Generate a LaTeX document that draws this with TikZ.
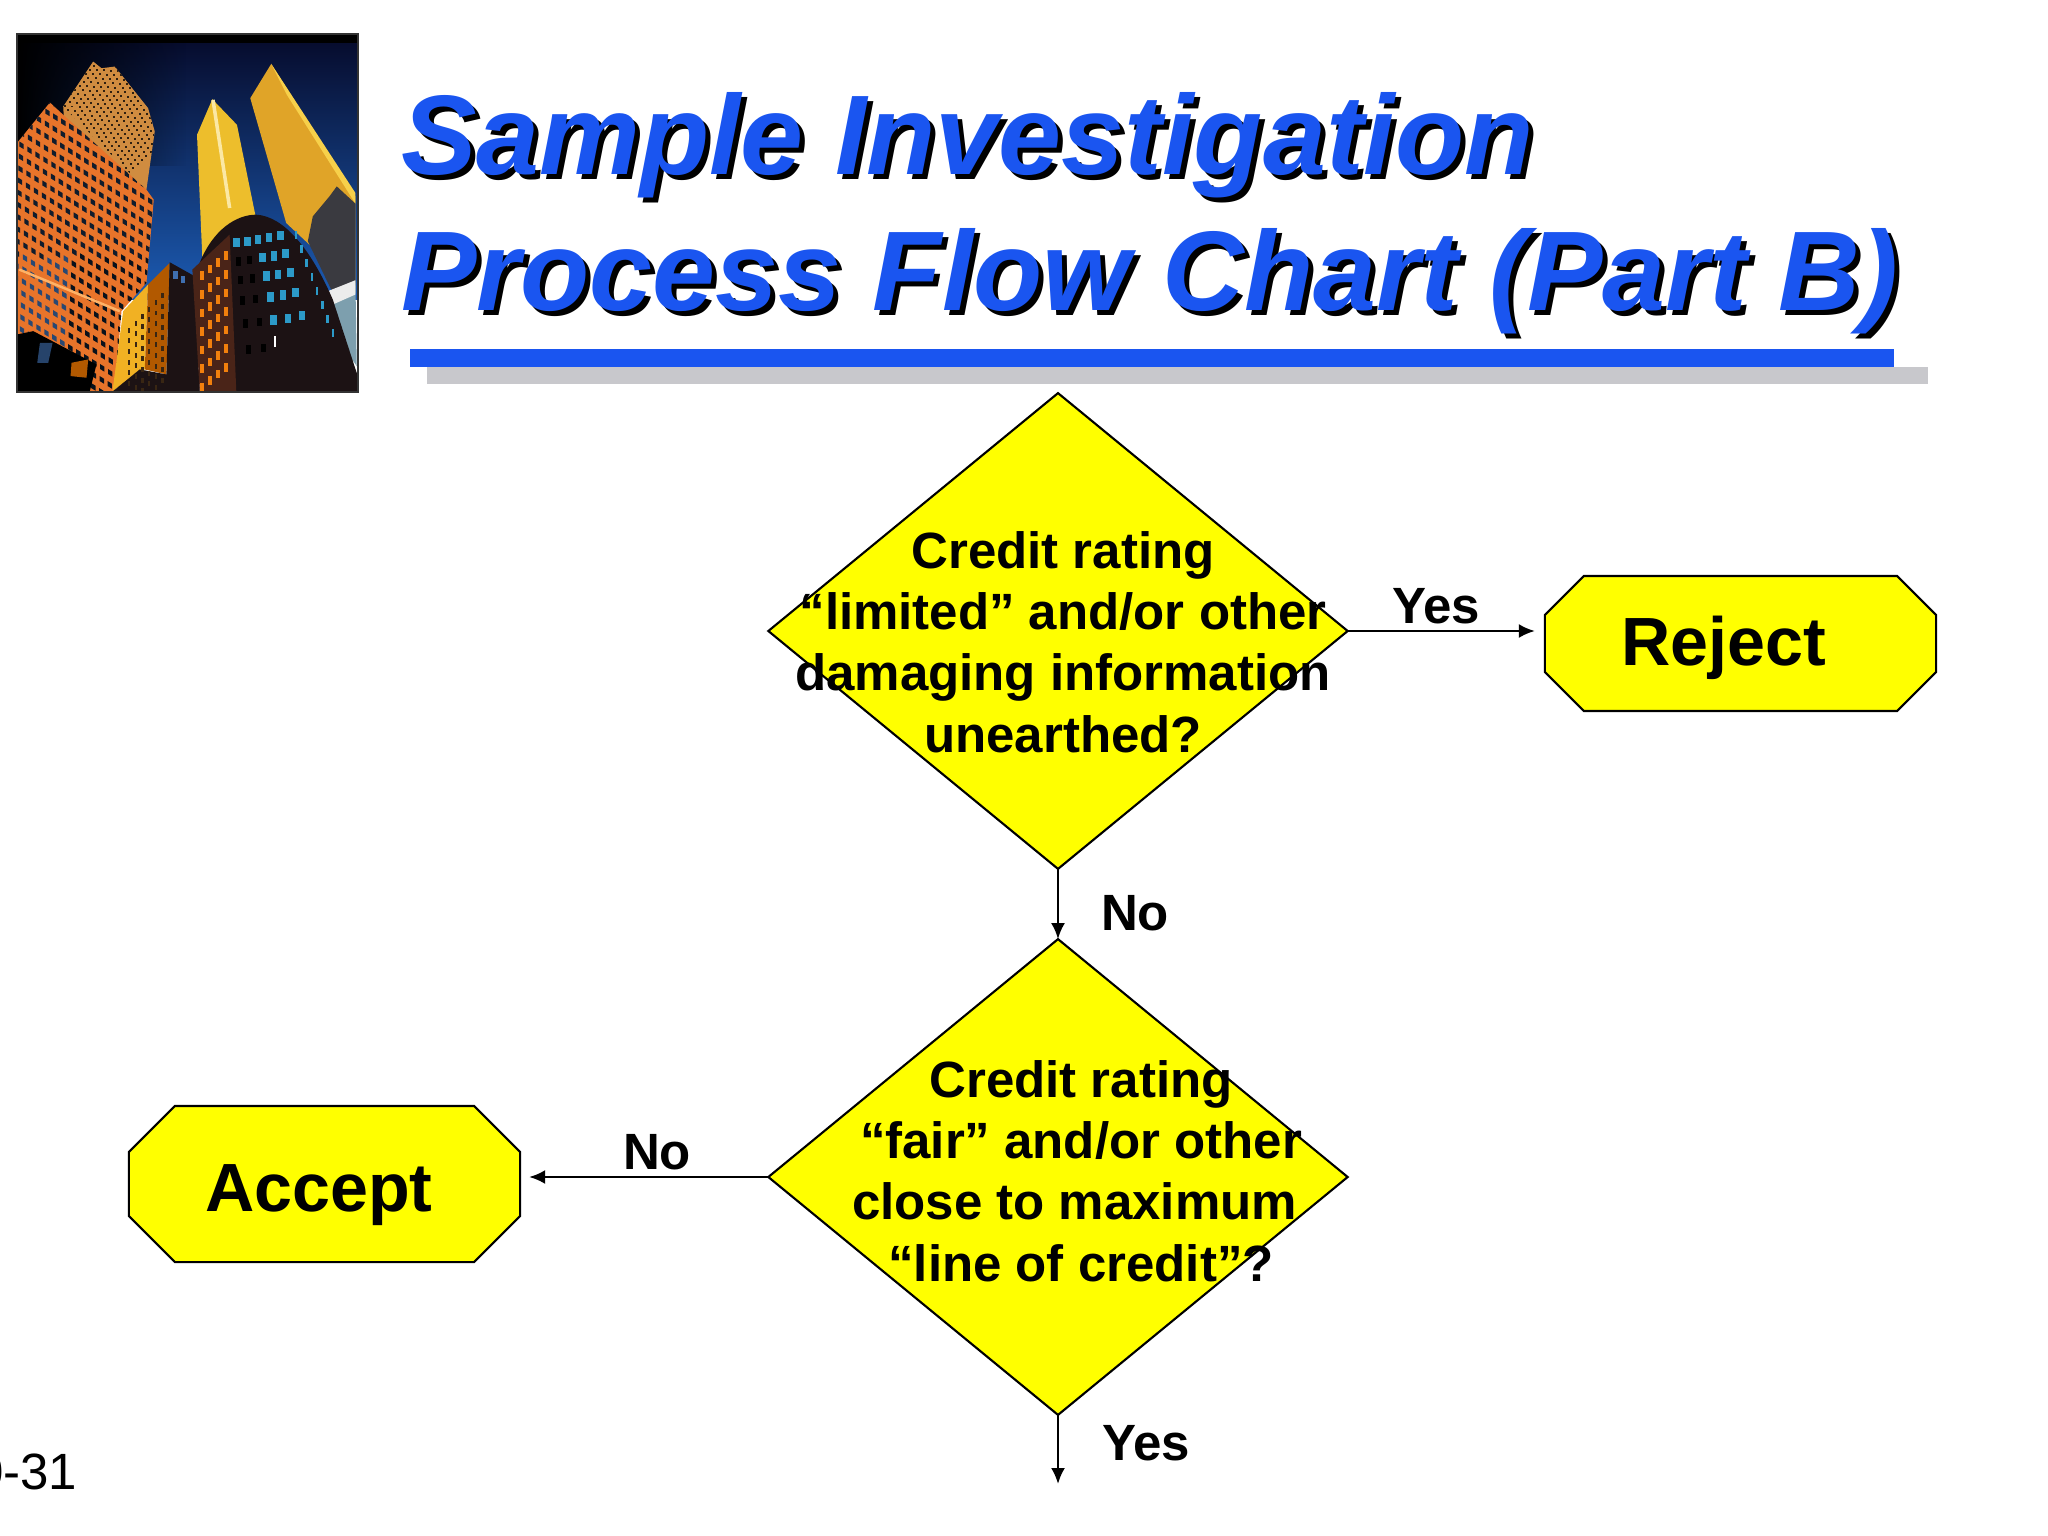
\documentclass[tikz,border=0pt]{standalone}
\usepackage{fontspec}
\setmainfont{Liberation Sans}
\usetikzlibrary{shapes.geometric,arrows.meta,calc,fadings}
\definecolor{titleblue}{HTML}{1A55F0}
\definecolor{barshadow}{HTML}{C8C8CC}
\definecolor{flowyellow}{HTML}{FFFF00}
\definecolor{bOrange}{HTML}{E8742A}
\definecolor{bBack}{HTML}{D08C40}
\definecolor{bYellow}{HTML}{EDBE2C}
\definecolor{bGold}{HTML}{E0A428}
\definecolor{bPale}{HTML}{F7D04A}
\definecolor{bDark}{HTML}{1C1214}
\definecolor{bBrown}{HTML}{4A2418}
\definecolor{bWin}{HTML}{3F6FB0}
\definecolor{skyTop}{HTML}{060A2A}
\definecolor{skyMid}{HTML}{0C2468}
\definecolor{skyLow}{HTML}{1C5CB4}
\definecolor{bGrey}{HTML}{3A3A40}
\tikzset{
  titletext/.style={anchor=base west,inner sep=0,outer sep=0,font=\fontsize{32.2}{32.2}\selectfont\bfseries\itshape},
  decision/.style={diamond,draw=black,fill=flowyellow,line width=.6pt,inner sep=0,outer sep=0,minimum width=5.79cm,minimum height=4.755cm},
  terminal/.style={rectangle,inner sep=0,outer sep=0},
  termshape/.style={draw=black,fill=flowyellow,line width=.6pt},
  decisiontext/.style={align=center,inner sep=0,font=\fontsize{14.5}{17.44}\selectfont\bfseries},
  termtext/.style={anchor=base,inner sep=0,font=\fontsize{19.4}{19.4}\selectfont\bfseries},
  edgelabel/.style={anchor=base,inner sep=0,font=\fontsize{14.5}{14.5}\selectfont\bfseries},
  flow/.style={draw=black,line width=.7pt,-{Latex[length=.16cm,width=.14cm]}}
}
\newcommand{\octagonfor}[2]{\draw[termshape] ($(#1.north west)+(#2,0)$) -- ($(#1.north east)+(-#2,0)$) -- ($(#1.north east)+(0,#2)$) -- ($(#1.south east)+(0,-#2)$) -- ($(#1.south east)+(-#2,0)$) -- ($(#1.south west)+(#2,0)$) -- ($(#1.south west)+(0,-#2)$) -- ($(#1.north west)+(0,#2)$) -- cycle;}
\begin{document}
\begin{tikzpicture}[x=0.01cm,y=-0.01cm]
\useasboundingbox (0,0) rectangle (2048,1536);
\fill[white] (0,0) rectangle (2048,1536);
% photo
\begin{scope}[x=0.0033333cm,y=-0.0033333cm]
\clip (51,102) rectangle (1075,1175);
\shade[top color=skyTop,middle color=skyMid,bottom color=skyLow] (51,102) rectangle (1075,900);
\fill[black,path fading=east] (51,102) rectangle (560,500);
\fill[black] (51,102) rectangle (1075,128);
% tower 2
\fill[bGold] (815,192) -- (1068,590) -- (1068,880) -- (935,740) -- (860,670) -- (752,295) -- cycle;
\fill[bPale] (815,192) -- (1068,580) -- (1068,612) -- (862,285) -- cycle;
\fill[bGrey] (1012,560) -- (1068,612) -- (1068,850) -- (1000,880) -- (925,725) -- (940,650) -- (990,590) -- cycle;
\fill[gray!70!cyan] (985,880) -- (1068,845) -- (1072,1100) -- (1030,1040) -- cycle;
\fill[white!85!gray] (985,875) -- (1068,842) -- (1068,885) -- (1000,915) -- cycle;
% tower 1
\fill[bYellow] (638,298) -- (712,375) -- (768,650) -- (608,775) -- (592,405) -- cycle;
\draw[bPale!50!white,line width=1pt] (640,300) -- (690,625);
% back building
\fill[bBack] (190,320) -- (280,185) -- (305,205) -- (345,200) -- (445,325) -- (465,395) -- (440,570) -- (440,720) -- (200,500) -- cycle;
\begin{scope}
\clip (190,320) -- (280,185) -- (305,205) -- (345,200) -- (445,325) -- (465,395) -- (440,570) -- (300,430) -- cycle;
\foreach \i in {0,...,26}\foreach \j in {0,...,22}
  \fill[black!75!brown] ({120+\i*13+\j*8.5},{300-\i*12+\j*13}) rectangle +(6,6);
\end{scope}
% front orange building
\fill[bOrange] (51,430) -- (150,308) -- (190,345) -- (440,570) -- (462,600) -- (440,850) -- (365,935) -- (345,1175) -- (51,1175) -- cycle;
\begin{scope}
\clip (51,430) -- (150,308) -- (190,345) -- (440,570) -- (462,600) -- (440,850) -- (365,935) -- (345,1175) -- (51,1175) -- cycle;
\foreach \i in {0,...,17}\foreach \j in {-8,...,20}{
  \pgfmathsetmacro{\wx}{58+\i*24+\j*(-1.5)}
  \pgfmathsetmacro{\wy}{425+\i*15+\j*36}
  \pgfmathsetmacro{\wm}{\wy<760?75:(\wx>200?85:35)}
  \fill[black!\wm!bWin] (\wx,\wy) -- +(13,8) -- +(13,23) -- +(0,15) -- cycle;
}
\end{scope}
\draw[orange!60!white,line width=.7pt] (58,810) -- (360,935);
\fill[black] (51,1005) -- (100,995) -- (290,1095) -- (270,1175) -- (51,1175) -- cycle;
\fill[bWin!60!black] (120,1030) -- (158,1030) -- (145,1090) -- (112,1090) -- cycle;
\fill[orange!70!black] (215,1090) -- (265,1080) -- (260,1135) -- (212,1130) -- cycle;
% middle building
\fill[bYellow!80!orange] (370,935) -- (445,855) -- (435,1110) -- (338,1175) -- cycle;
\fill[orange!70!black] (445,855) -- (510,790) -- (500,1125) -- (435,1110) -- cycle;
\fill[bDark] (510,788) -- (585,830) -- (600,1175) -- (340,1175) -- (420,1110) -- (500,1125) -- cycle;
\foreach \i in {0,1,2,3,4,5}\foreach \j in {0,...,8}
  \fill[black!70!brown] ({385+\i*20},{985-\i*21+\j*32}) rectangle +(7,15);
\fill[bWin] (520,815) rectangle +(14,24);
\fill[bWin] (545,828) rectangle +(12,22);
% round building
\fill[bDark] (600,790) .. controls (640,690) and (710,645) .. (770,645) .. controls (850,650) and (930,740) .. (1000,900) -- (1075,1130) -- (1075,1175) -- (600,1175) -- cycle;
\fill[bBrown] (578,810) -- (690,705) -- (710,1175) -- (600,1175) -- cycle;
\foreach \i in {0,1,2,3}\foreach \j in {0,...,6}
  \fill[orange!80!brown] ({600+\i*24},{815-\i*20+\j*56}) rectangle +(12,26);
\foreach \i/\j in {700/715,733/712,765/705,798/700,832/693,778/760,813/755,848/748,790/815,825/810,862/805,802/878,840/872,878/865,812/948,855/942,897/935}
  \fill[bWin!70!cyan] (\i,\j) rectangle +(20,28);
\foreach \i/\j in {708/772,742/768,714/828,750/824,720/890,760/885,730/960,772/955,740/1038,785/1033}
  \fill[black] (\i,\j) rectangle +(15,26);
\fill[white] (822,1010) rectangle +(8,32);
\foreach \j in {0,...,7}
  \fill[bWin!70!cyan] ({885+\j*16},{695+\j*42}) rectangle +(8,24);
\end{scope}
\draw[black!80,line width=.4pt] (17,34) rectangle (358,392);
% title
\node[titletext,text=black] (t1s) at (406,179) {Sample Investigation};
\node[titletext,text=black] (t2s) at (406,315) {Process Flow Chart (Part B)};
\node[titletext,text=titleblue] (t1) at (401,174) {Sample Investigation};
\node[titletext,text=titleblue] (t2) at (401,310) {Process Flow Chart (Part B)};
\fill[barshadow] (427,367) rectangle (1928,384);
\fill[titleblue] (410,349) rectangle (1894,367);
% flow
\node[decision] (d1) at (1058,631) {};
\node[decision] (d2) at (1058,1177) {};
\node[terminal,minimum width=3.91cm,minimum height=1.35cm] (reject) at (1740.5,643.5) {};
\node[terminal,minimum width=3.91cm,minimum height=1.56cm] (accept) at (324.5,1184) {};
\octagonfor{reject}{39}
\octagonfor{accept}{46}
\node[decisiontext] (d1t) at (1063,642) {Credit rating\\“limited” and/or other\\damaging information\\unearthed?};
\node[decisiontext] (d2t) at (1081,1171) {Credit rating\\“fair” and/or other\\close to maximum\kern.13cm\\“line of credit”?};
\node[termtext] (rt) at (1724,665) {Reject};
\node[termtext] (at) at (319,1211) {Accept};
\node[edgelabel] (l1) at (1436,623) {Yes};
\node[edgelabel] (l2) at (1135,930) {No};
\node[edgelabel] (l3) at (657,1169) {No};
\node[edgelabel] (l4) at (1146,1460) {Yes};
\coordinate (endb) at (1058,1484);
\draw[flow,shorten >=0.1cm] (d1.east) -- (d1.east -| reject.west);
\draw[flow] (d1.south) -- (d2.north);
\draw[flow,shorten >=0.09cm] (d2.west) -- (d2.west -| accept.east);
\draw[flow] (d2.south) -- (endb);
\node[anchor=base east,inner sep=0,font=\fontsize{14.5}{14.5}\selectfont] (pg) at (78,1489) {0-31};
\end{tikzpicture}
\end{document}
